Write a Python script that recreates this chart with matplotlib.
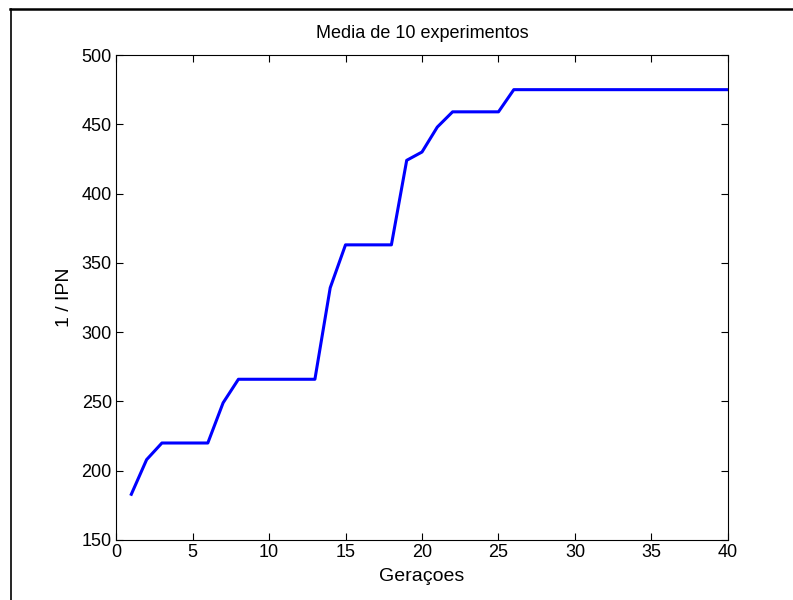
import matplotlib.pyplot as plt
from matplotlib.lines import Line2D

plt.rcParams['font.family'] = ['Liberation Sans', 'DejaVu Sans']

# dados
geracoes = list(range(1, 41))
ipn_inv = [183, 208, 220, 220, 220, 220, 249, 266, 266, 266,
           266, 266, 266, 332, 363, 363, 363, 363, 424, 430,
           448, 459, 459, 459, 459, 475, 475, 475, 475, 475,
           475, 475, 475, 475, 475, 475, 475, 475, 475, 475]
xticks = [0, 5, 10, 15, 20, 25, 30, 35, 40]
yticks = [150, 200, 250, 300, 350, 400, 450, 500]

fig = plt.figure(figsize=(7.93, 6.0), dpi=100)
ax = fig.add_axes([0.1463, 0.1, 0.7717, 0.8083])
ax.plot(geracoes, ipn_inv, color='#0000ff', linewidth=2.2)
ax.set_xlim(0, 40)
ax.set_ylim(150, 500)
ax.set_xticks(xticks)
ax.set_yticks(yticks)
ax.tick_params(direction='in', length=5, labelsize=13, top=True, right=True,
               labeltop=False, labelright=False, width=0.8, pad=3)
for s in ax.spines.values():
    s.set_linewidth(0.8)
ax.set_title('Media de 10 experimentos', fontsize=13, pad=12)
ax.set_xlabel('Geraçoes', fontsize=14, labelpad=5)
ax.set_ylabel('1 / IPN', fontsize=14, labelpad=6)

# moldura da figura (topo e esquerda)
fig.add_artist(Line2D([10 / 793, 1], [1 - 9 / 600, 1 - 9 / 600], color='black', lw=1.8,
                      transform=fig.transFigure))
fig.add_artist(Line2D([10.5 / 793, 10.5 / 793], [0, 1 - 9 / 600], color='black', lw=1.2,
                      transform=fig.transFigure))

plt.savefig('out.png', dpi=100)
